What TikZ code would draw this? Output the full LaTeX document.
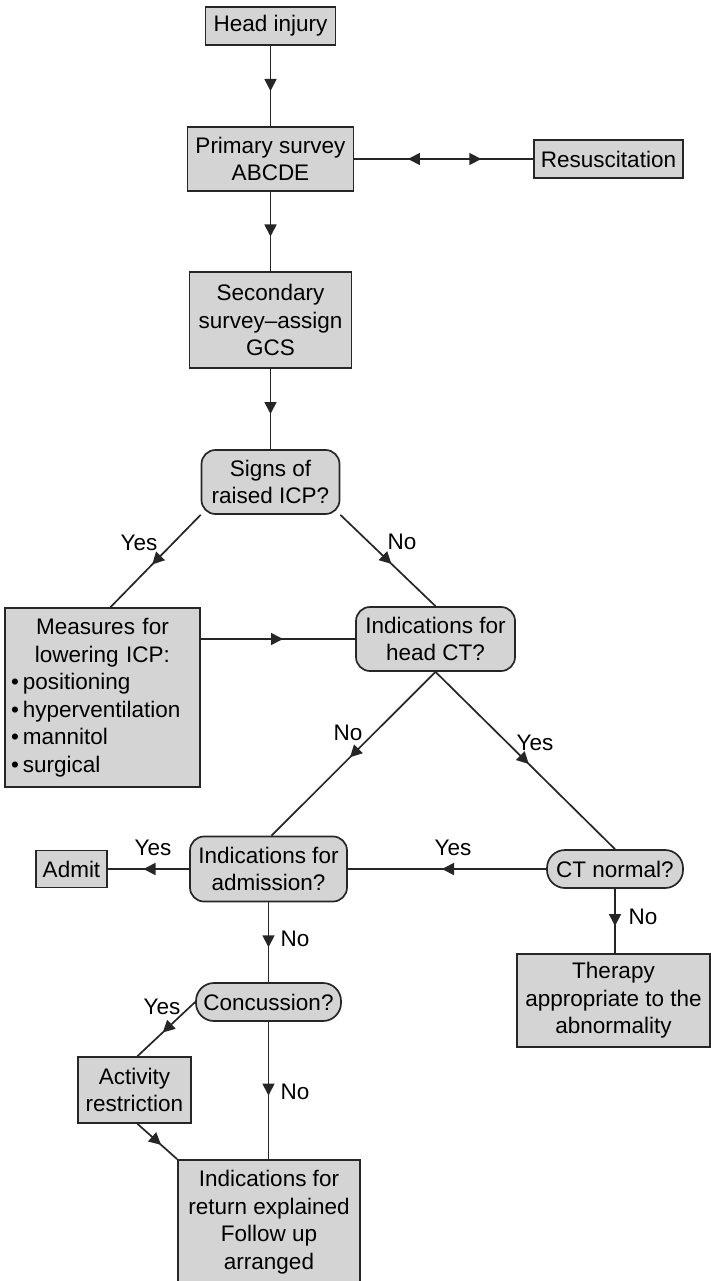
\documentclass[tikz,border=0pt]{standalone}
\usepackage{fontspec}
\setmainfont{Liberation Sans}
\usetikzlibrary{arrows.meta,decorations.markings}
\tikzset{
	box/.style={draw=black!85, line width=1.7pt, fill=black!17, align=center, inner sep=3pt, font=\fontsize{22.5}{27.5}\selectfont},
	ask/.style={box, rounded corners=14pt},
	pill/.style={box, rounded corners=18pt},
	lbl/.style={inner sep=0pt, font=\fontsize{22.5}{27.5}\selectfont},
	wire/.style={line width=1.7pt, draw=black!85},
	flow/.style={wire, postaction=decorate, decoration={markings, mark=at position 0.5 with {\arrow[xshift=5pt]{Triangle[length=12pt,width=12pt]}}}},
	both/.style={wire, postaction=decorate, decoration={markings, mark=at position 0.30 with {\arrowreversed{Triangle[length=12pt,width=12pt]}}, mark=at position 0.71 with {\arrow{Triangle[length=12pt,width=12pt]}}}},
}

\begin{document}
\begin{tikzpicture}[x=1pt, y=-1pt]
		\useasboundingbox (0,0) rectangle (711,1281);
		%%%%% START %%%%%
		
		\node[box, minimum width=130pt, minimum height=38pt] (head) at (270.5,26) {Head injury};
		\node[box, minimum width=166pt, minimum height=64pt] (primary) at (270.5,159) {Primary survey\\ABCDE};
		\node[box, minimum width=149pt, minimum height=38pt] (resus) at (608.5,159) {Resuscitation};
		\node[box, minimum width=162pt, minimum height=96pt] (secondary) at (270.5,320) {Secondary\\survey–assign\\GCS};
		
		\node[ask, minimum width=138pt, minimum height=64pt] (signs) at (270.5,482) {Signs of\\raised ICP?};
		\node[box, text width=183pt, minimum height=179pt, inner sep=6pt, align=left] (measures) at (102.5,697.5)
			{{\centering Measures for\\lowering ICP:\par}
			\textbullet\hspace{4pt}positioning\\
			\textbullet\hspace{4pt}hyperventilation\\
			\textbullet\hspace{4pt}mannitol\\
			\textbullet\hspace{4pt}surgical};
		\node[ask, minimum width=159pt, minimum height=64pt] (headct) at (435.5,639) {Indications for\\head CT?};
		
		\node[ask, minimum width=157pt, minimum height=65pt] (admission) at (268.5,869) {Indications for\\admission?};
		\node[box, minimum width=71pt, minimum height=37pt] (admit) at (71.5,869) {Admit};
		\node[pill, minimum width=136pt, minimum height=38pt] (ctnormal) at (615,869) {CT normal?};
		\node[box, minimum width=193pt, minimum height=93pt] (therapy) at (613.5,1000.5) {Therapy\\appropriate to the\\abnormality};
		
		\node[pill, minimum width=145pt, minimum height=38pt] (concussion) at (268.5,1002) {Concussion?};
		\node[box, minimum width=113pt, minimum height=66pt] (activity) at (134.5,1090) {Activity\\restriction};
		\node[box, minimum width=182pt, minimum height=124pt] (final) at (269,1222) {Indications for\\return explained\\Follow up\\arranged};
		
		% branch labels
		\node[lbl] (yesicp) at (139,543) {Yes};
		\node[lbl] (noicp) at (402,542) {No};
		\node[lbl] (noct) at (348,733) {No};
		\node[lbl] (yesct) at (535,743) {Yes};
		\node[lbl] (yesnormal) at (453,848) {Yes};
		\node[lbl] (yesadmit) at (153,848) {Yes};
		\node[lbl] (noadmit) at (295,939) {No};
		\node[lbl] (nonormal) at (643,917) {No};
		\node[lbl] (yesconc) at (162,1007) {Yes};
		\node[lbl] (noconc) at (295,1092) {No};
		
		\draw[flow] (head.south) -- (primary.north);
		\draw[both] (primary.east) -- (resus.west);
		\draw[flow] (primary.south) -- (secondary.north);
		\draw[flow] (secondary.south) -- (signs.north);
		
		\draw[flow] (signs.south west) -- ([xshift=8pt]measures.north);
		\draw[flow] (signs.south east) -- (headct.north);
		\draw[flow] (measures.east |- headct.west) -- (headct.west);
		
		\draw[flow] (headct.south) -- ([xshift=3pt]admission.north);
		\draw[flow] (headct.south) -- (ctnormal.north);
		\draw[flow] (ctnormal.west) -- (admission.east);
		\draw[flow] (admission.west) -- (admit.east);
		\draw[flow] (ctnormal.south) -- (ctnormal.south |- therapy.north);
		\draw[flow] (admission.south) -- (concussion.north);
		
		\draw[flow] (concussion.west) -- ([xshift=3pt]activity.north);
		\draw[flow] ([xshift=3pt]activity.south) -- (final.north west);
		\draw[flow] (concussion.south) -- (concussion.south |- final.north);
		
		%%%%% END %%%%%
\end{tikzpicture}
\end{document}
